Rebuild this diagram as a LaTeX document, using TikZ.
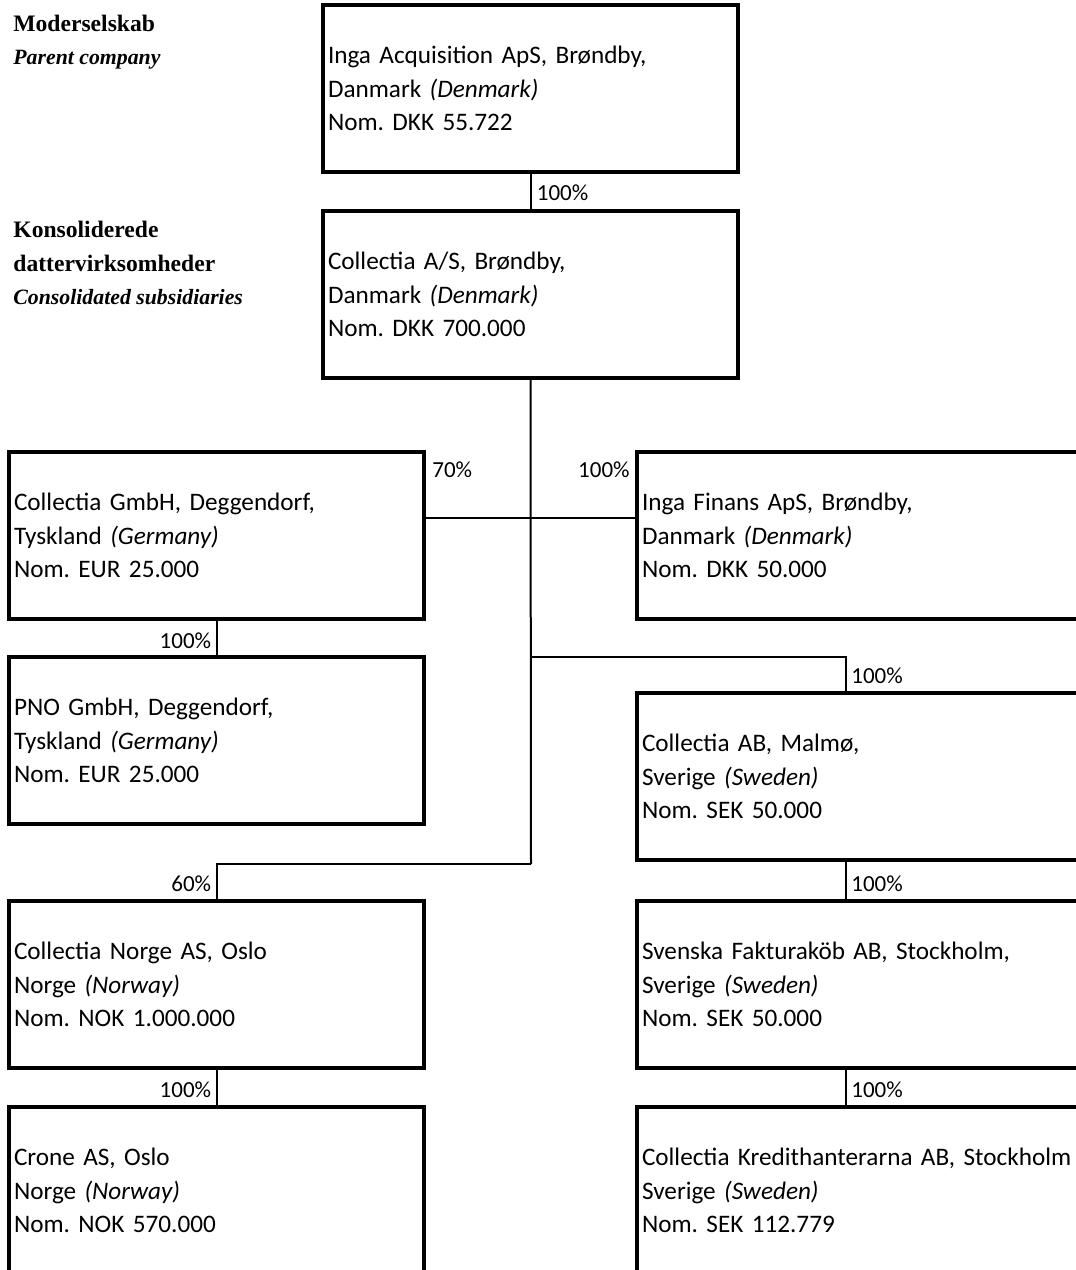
\documentclass[tikz,border=0pt]{standalone}
\usepackage{fontspec}
\setmainfont{Liberation Serif}
\newfontfamily\boxfont{Carlito}
\usetikzlibrary{calc}
\frenchspacing
\tikzset{
  entity/.style={draw, line width=2pt, minimum width=207.5pt, minimum height=83.5pt,
    text width=202.5pt, inner xsep=2.5pt, align=left, anchor=north west,
    font=\boxfont\fontsize{12.6}{16.75}\selectfont},
  wide/.style={minimum width=238pt, text width=233pt},
  link/.style={line width=1pt},
  share/.style={inner sep=0pt, font=\boxfont\fontsize{11.5}{14}\selectfont},
  headbold/.style={inner sep=0pt, anchor=base west, font=\bfseries\fontsize{11.8}{14}\selectfont},
  headital/.style={inner sep=0pt, anchor=base west, font=\bfseries\itshape\fontsize{10.9}{12}\selectfont}
}
\begin{document}
\begin{tikzpicture}[x=0.5pt, y=-0.5pt]
\path[use as bounding box, clip] (0,0) rectangle (1076,1270);

\node[headbold] (hmoder) at (13,31) {Moderselskab};
\node[headital] (hparent) at (13,64) {Parent company};
\node[headbold] (hkons) at (13,237) {Konsoliderede};
\node[headbold] (hdatter) at (13,271) {dattervirksomheder};
\node[headital] (hsub) at (13,304) {Consolidated subsidiaries};

\node[entity] (ia) at (321,3) {Inga Acquisition ApS, Brøndby,\\ Danmark \textit{(Denmark)}\\ Nom. DKK 55.722};
\node[entity] (ca) at (321,209) {Collectia A/S, Brøndby,\\ Danmark \textit{(Denmark)}\\ Nom. DKK 700.000};
\node[entity] (gmbh) at (7,450) {Collectia GmbH, Deggendorf,\\ Tyskland \textit{(Germany)}\\ Nom. EUR 25.000};
\node[entity, wide] (ifa) at (635,450) {Inga Finans ApS, Brøndby,\\ Danmark \textit{(Denmark)}\\ Nom. DKK 50.000};
\node[entity] (pno) at (7,655) {PNO GmbH, Deggendorf,\\ Tyskland \textit{(Germany)}\\ Nom. EUR 25.000};
\node[entity, wide] (cab) at (635,691) {Collectia AB, Malmø,\\ Sverige \textit{(Sweden)}\\ Nom. SEK 50.000};
\node[entity] (nor) at (7,899) {Collectia Norge AS, Oslo\\ Norge \textit{(Norway)}\\ Nom. NOK 1.000.000};
\node[entity, wide] (sfk) at (635,899) {Svenska Fakturaköb AB, Stockholm,\\ Sverige \textit{(Sweden)}\\ Nom. SEK 50.000};
\node[entity] (crone) at (7,1105) {Crone AS, Oslo\\ Norge \textit{(Norway)}\\ Nom. NOK 570.000};
\node[entity, wide] (ckh) at (635,1105) {Collectia Kredithanterarna AB, Stockholm\\ Sverige \textit{(Sweden)}\\ Nom. SEK 112.779};

\coordinate (jrow) at (531,518);
\coordinate (jcab) at (531,657);
\coordinate (jnor) at (531,864);
\coordinate (cabtop) at ($(cab.north west)+(211,0)$);
\coordinate (cabbot) at ($(cab.south west)+(211,0)$);
\coordinate (sfktop) at ($(sfk.north west)+(211,0)$);
\coordinate (sfkbot) at ($(sfk.south west)+(211,0)$);
\coordinate (ckhtop) at ($(ckh.north west)+(211,0)$);

\draw[link] (ia.south) -- (ca.north);
\draw[link] (ca.south) -- (jnor);
\draw[link] (gmbh.east |- jrow) -- (ifa.west |- jrow);
\draw[link] (jcab) -| (cabtop);
\draw[link] (jnor) -| (nor.north);
\draw[link] (gmbh.south) -- (pno.north);
\draw[link] (nor.south) -- (crone.north);
\draw[link] (cabbot) -- (sfktop);
\draw[link] (sfkbot) -- (ckhtop);

\node[share, anchor=base west] (sca) at ($(ia.south)+(6,26)$) {100\%};
\node[share, anchor=base west] (sgmbh) at ($(gmbh.north east)+(6,27)$) {70\%};
\node[share, anchor=base east] (sifa) at ($(ifa.north west)+(-5,27)$) {100\%};
\node[share, anchor=base east] (spno) at ($(gmbh.south)+(-5,27)$) {100\%};
\node[share, anchor=base west] (scab) at ($(cabtop)+(5,-8)$) {100\%};
\node[share, anchor=base east] (snor) at ($(nor.north)+(-5,-8)$) {60\%};
\node[share, anchor=base east] (scrone) at ($(nor.south)+(-5,27)$) {100\%};
\node[share, anchor=base west] (ssfk) at ($(sfktop)+(5,-8)$) {100\%};
\node[share, anchor=base west] (sckh) at ($(ckhtop)+(5,-8)$) {100\%};
\end{tikzpicture}
\end{document}
